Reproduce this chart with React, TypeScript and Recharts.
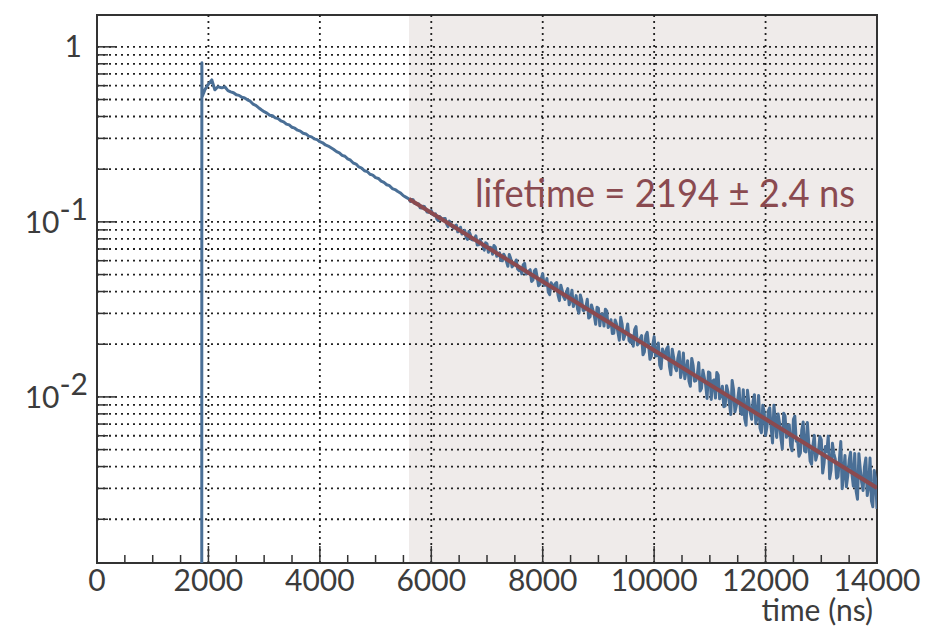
import { Line, LineChart, ReferenceArea, ReferenceLine, XAxis, YAxis } from "recharts";

const FONT = "Lato, 'Open Sans', sans-serif";
const INK = "#333333";

const X_MAX = 14000;
const Y_MIN = 0.001125;
const Y_MAX = 1.52;
const FIT_FROM = 5600;

const X_TICKS = [
  0, 500, 1000, 1500, 2000, 2500, 3000, 3500, 4000, 4500, 5000, 5500, 6000, 6500, 7000,
  7500, 8000, 8500, 9000, 9500, 10000, 10500, 11000, 11500, 12000, 12500, 13000, 13500, 14000,
];
const X_LABELED = [0, 2000, 4000, 6000, 8000, 10000, 12000, 14000];
const X_GRID = [2000, 4000, 6000, 8000, 10000, 12000];
const Y_TICKS = [
  0.002, 0.003, 0.004, 0.005, 0.006, 0.007, 0.008, 0.009,
  0.01, 0.02, 0.03, 0.04, 0.05, 0.06, 0.07, 0.08, 0.09,
  0.1, 0.2, 0.3, 0.4, 0.5, 0.6, 0.7, 0.8, 0.9, 1,
];

// pulse onset, read point by point
const RISE_TIME = [1880, 1882, 1886, 1936, 1990, 2061, 2115, 2169, 2240, 2294, 2350];
const RISE_VALUE = [0.0005, 0.81, 0.518, 0.568, 0.606, 0.648, 0.568, 0.591, 0.583, 0.591, 0.562];

// smooth part, 50 ns bins
const DECAY_BIN_NS = 50;
const DECAY_EARLY_START = 2400;
const DECAY_EARLY = [
  0.553, 0.547, 0.532, 0.528, 0.515, 0.51, 0.498, 0.489, 0.471, 0.463, 0.449, 0.437, 0.426,
  0.418, 0.407, 0.404, 0.393, 0.389, 0.378, 0.373, 0.362, 0.358, 0.347, 0.343, 0.334, 0.33,
  0.321, 0.318, 0.309, 0.306, 0.298, 0.295,
];
const DECAY_MID_START = 4000;
const DECAY_MID = [
  0.287, 0.283, 0.275, 0.271, 0.265, 0.259, 0.252, 0.248, 0.24, 0.237, 0.229, 0.225, 0.217,
  0.214, 0.206, 0.203, 0.196, 0.194, 0.187, 0.185, 0.179, 0.177, 0.171, 0.168, 0.163, 0.161,
  0.155, 0.153, 0.149, 0.146, 0.141, 0.138,
];

// noisy tail, 25 ns bins
const TAIL_BIN_NS = 25;
const TAIL_1_START = 5600;
const TAIL_1 = [
  0.135, 0.1309, 0.1342, 0.1338, 0.1276, 0.1269, 0.1269, 0.1265, 0.1203, 0.12, 0.1229, 0.1226,
  0.1182, 0.1137, 0.1134, 0.1149, 0.1159, 0.1102, 0.1093, 0.1111,
  0.1038, 0.1018, 0.1073, 0.1051, 0.1025, 0.1047, 0.1044, 0.0973, 0.094, 0.101, 0.0976, 0.0939,
  0.092, 0.0948, 0.0959, 0.0877, 0.0892, 0.0932, 0.0852, 0.0866,
  0.0894, 0.0818, 0.0793, 0.0881, 0.0849, 0.0792, 0.0788, 0.08, 0.0833, 0.0738, 0.0739, 0.079,
  0.0761, 0.0733, 0.0689, 0.076, 0.0751, 0.067, 0.0716, 0.0712,
  0.0653, 0.0732, 0.0717, 0.0637, 0.0645, 0.0665, 0.0601, 0.0599, 0.0654, 0.0631, 0.0593,
  0.0558, 0.0652, 0.0618, 0.0553, 0.0566, 0.0578, 0.0606, 0.0538, 0.0527,
];
const TAIL_2_START = 7600;
const TAIL_2 = [
  0.0548, 0.0505, 0.0569, 0.058, 0.0503, 0.0508, 0.0523, 0.0533, 0.0457, 0.0466, 0.0526,
  0.0536, 0.0484, 0.0432, 0.044, 0.0477, 0.0506, 0.0435, 0.0434, 0.0475,
  0.0397, 0.0384, 0.0449, 0.0433, 0.0413, 0.0444, 0.045, 0.0381, 0.0355, 0.0435, 0.0405,
  0.0373, 0.036, 0.0396, 0.0416, 0.0336, 0.0357, 0.0407, 0.0328, 0.0349,
  0.0379, 0.0318, 0.0301, 0.0382, 0.0358, 0.0312, 0.0313, 0.0327, 0.0361, 0.0282, 0.0287,
  0.0335, 0.0314, 0.0293, 0.026, 0.0325, 0.0321, 0.0255, 0.0297, 0.0298,
  0.0254, 0.0317, 0.0309, 0.0249, 0.0258, 0.0276, 0.023, 0.0231, 0.0275, 0.026, 0.0234,
  0.0211, 0.0285, 0.026, 0.0213, 0.0225, 0.0236, 0.0261, 0.021, 0.0205,
];
const TAIL_3_START = 9600;
const TAIL_3 = [
  0.0223, 0.0195, 0.0242, 0.0252, 0.0198, 0.0203, 0.0215, 0.0224, 0.0174, 0.0181, 0.0225,
  0.0234, 0.0198, 0.0164, 0.0171, 0.0198, 0.0221, 0.0171, 0.0172, 0.0203,
  0.0152, 0.0145, 0.0188, 0.0178, 0.0167, 0.0189, 0.0194, 0.0149, 0.0134, 0.0187, 0.0168,
  0.0148, 0.0141, 0.0166, 0.0181, 0.0129, 0.0143, 0.0178, 0.0127, 0.0141,
  0.0161, 0.0123, 0.0115, 0.0166, 0.0151, 0.0123, 0.0124, 0.0134, 0.0157, 0.0108, 0.0112,
  0.0142, 0.0129, 0.0117, 0.0098, 0.0139, 0.0137, 0.00968, 0.0123, 0.0125,
  0.00985, 0.0138, 0.0133, 0.00975, 0.0103, 0.0115, 0.00879, 0.00889, 0.0116, 0.0107,
  0.00922, 0.00794, 0.0124, 0.011, 0.00822, 0.00891, 0.00966, 0.0112, 0.00823, 0.00795,
];
const TAIL_4_START = 11600;
const TAIL_4 = [
  0.011, 0.0075, 0.00689, 0.0109, 0.0093, 0.00812, 0.00745, 0.00946, 0.0103, 0.00703,
  0.00768, 0.0102, 0.00663, 0.00624, 0.00895, 0.00821, 0.00603, 0.00675, 0.00835, 0.00867,
  0.00666, 0.00546, 0.00897, 0.00735, 0.00587, 0.00799, 0.00711, 0.00583, 0.00505, 0.00807,
  0.00776, 0.00588, 0.00683, 0.00693, 0.00525, 0.00492, 0.00745, 0.00777, 0.00558, 0.00567,
  0.00458, 0.00479, 0.00648, 0.00719, 0.00491, 0.00485, 0.00714, 0.00546, 0.0043, 0.00413,
  0.00529, 0.00603, 0.00435, 0.00468, 0.00491, 0.00594, 0.0057, 0.00367, 0.00419, 0.00521,
  0.00488, 0.00597, 0.00341, 0.00381, 0.00543, 0.00475, 0.00442, 0.00343, 0.0035, 0.00441,
  0.00556, 0.00299, 0.00366, 0.00462, 0.00307, 0.00354, 0.00433, 0.00483, 0.00364, 0.00309,
  0.00475, 0.0029, 0.0026, 0.00474, 0.00387, 0.00325, 0.00292, 0.00398, 0.00448, 0.00273,
  0.00308, 0.00447, 0.00255, 0.00236, 0.0038, 0.0034, 0.00229,
];

// exponential fit, end points of the straight line on the log axis
const FIT_TIME = [5600, 14000];
const FIT_VALUE = [0.135, 0.00302];

function binned(start: number, step: number, values: number[]) {
  return values.map((v, i) => ({ t: start + i * step, v }));
}

const histogram = [
  ...RISE_TIME.map((t, i) => ({ t, v: RISE_VALUE[i] })),
  ...binned(DECAY_EARLY_START, DECAY_BIN_NS, DECAY_EARLY),
  ...binned(DECAY_MID_START, DECAY_BIN_NS, DECAY_MID),
  ...binned(TAIL_1_START, TAIL_BIN_NS, TAIL_1),
  ...binned(TAIL_2_START, TAIL_BIN_NS, TAIL_2),
  ...binned(TAIL_3_START, TAIL_BIN_NS, TAIL_3),
  ...binned(TAIL_4_START, TAIL_BIN_NS, TAIL_4),
];
const fit = FIT_TIME.map((t, i) => ({ t, v: FIT_VALUE[i] }));

function TimeTick(props: any) {
  const { x, y, payload } = props;
  const v = payload.value as number;
  const major = X_LABELED.includes(v);
  return (
    <g>
      <line x1={x} x2={x} y1={y} y2={y - (major ? 17 : 8)} stroke={INK} strokeWidth={1.5} />
      {major && (
        <text x={x} y={y + 28} textAnchor="middle" fontSize={30} fill="#3c3c3c" fontFamily={FONT}>
          {v}
        </text>
      )}
    </g>
  );
}

function DecadeTick(props: any) {
  const { x, y, payload } = props;
  const v = payload.value as number;
  const exp = Math.round(Math.log10(v));
  const decade = Math.abs(v - Math.pow(10, exp)) < v * 1e-6;
  return (
    <g>
      <line x1={x} x2={x + (decade ? 20 : 11)} y1={y} y2={y} stroke={INK} strokeWidth={1.5} />
      {decade && exp === 0 && (
        <text x={x - 15} y={y + 10} textAnchor="end" fontSize={30} fill="#3c3c3c" fontFamily={FONT}>
          1
        </text>
      )}
      {decade && exp !== 0 && (
        <text x={x - 9} y={y + 11} textAnchor="end" fontSize={30} fill="#3c3c3c" fontFamily={FONT}>
          <tspan>10</tspan>
          <tspan dy={-13}>{`-${-exp}`}</tspan>
        </text>
      )}
    </g>
  );
}

const dotted = { stroke: "#222", strokeWidth: 1.8, strokeDasharray: "2 4" };

export default function App() {
  return (
    <div style={{ position: "absolute", left: 0, top: 0, width: 952, height: 630, background: "#fff" }}>
      <LineChart width={952} height={630} margin={{ top: 15, right: 75, bottom: 66, left: 96 }}>
        <ReferenceArea
          x1={FIT_FROM}
          x2={X_MAX}
          y1={Y_MIN}
          y2={Y_MAX}
          fill="#efebea"
          fillOpacity={1}
          stroke="none"
        />
        {Y_TICKS.map((y) => (
          <ReferenceLine key={`h${y}`} y={y} {...dotted} />
        ))}
        {X_GRID.map((x) => (
          <ReferenceLine key={`v${x}`} x={x} {...dotted} />
        ))}
        <XAxis
          type="number"
          dataKey="t"
          domain={[0, X_MAX]}
          ticks={X_TICKS}
          interval={0}
          height={1}
          tickSize={0}
          tickMargin={0}
          tickLine={false}
          axisLine={false}
          tick={<TimeTick />}
          allowDataOverflow
        />
        <YAxis
          type="number"
          scale="log"
          domain={[Y_MIN, Y_MAX]}
          ticks={Y_TICKS}
          interval={0}
          width={1}
          tickSize={0}
          tickMargin={0}
          tickLine={false}
          axisLine={false}
          tick={<DecadeTick />}
          allowDataOverflow
        />
        <Line
          data={histogram}
          dataKey="v"
          type="linear"
          stroke="#4a6f96"
          strokeWidth={3}
          strokeLinejoin="round"
          dot={false}
          isAnimationActive={false}
        />
        <Line
          data={fit}
          dataKey="v"
          type="linear"
          stroke="#8b4a4f"
          strokeWidth={4}
          dot={false}
          isAnimationActive={false}
        />
        <ReferenceArea
          x1={0}
          x2={X_MAX}
          y1={Y_MIN}
          y2={Y_MAX}
          fill="none"
          stroke={INK}
          strokeWidth={2}
        />
      </LineChart>
      <svg width={952} height={630} style={{ position: "absolute", left: 0, top: 0, pointerEvents: "none" }}>
        <text
          x={475}
          y={207}
          fontSize={39}
          fill="#8a4a50"
          fontFamily={FONT}
          textLength={380}
          lengthAdjust="spacingAndGlyphs"
        >
          lifetime = 2194 ± 2.4 ns
        </text>
        <text x={873} y={621} textAnchor="end" fontSize={30} fill="#3c3c3c" fontFamily={FONT}>
          time (ns)
        </text>
      </svg>
    </div>
  );
}
